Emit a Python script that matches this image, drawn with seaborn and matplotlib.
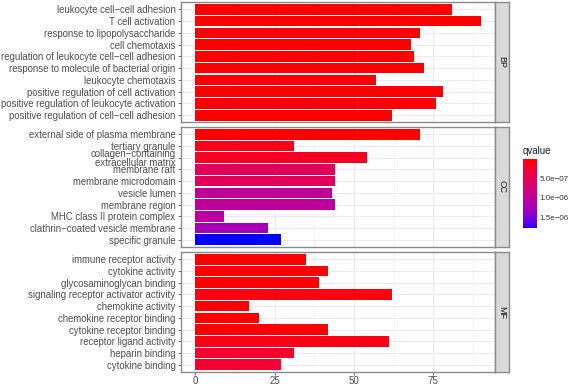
import matplotlib
matplotlib.use("Agg")
import matplotlib.pyplot as plt
import seaborn as sns
import numpy as np
from matplotlib.colors import ListedColormap, Normalize
from matplotlib.cm import ScalarMappable

sns.set_theme(style="white")
plt.rcParams["font.family"] = ["Liberation Sans", "DejaVu Sans"]

# GO terms, gene counts and qvalues
bp_terms = ["leukocyte cell\u2212cell adhesion", "T cell activation", "response to lipopolysaccharide",
            "cell chemotaxis", "regulation of leukocyte cell\u2212cell adhesion",
            "response to molecule of bacterial origin", "leukocyte chemotaxis",
            "positive regulation of cell activation", "positive regulation of leukocyte activation",
            "positive regulation of cell\u2212cell adhesion"]
bp_count = [81, 90, 71, 68, 69, 72, 57, 78, 76, 62]
bp_q = [1e-12, 1e-12, 2e-12, 3e-12, 5e-12, 6e-12, 8e-12, 9e-12, 1e-11, 2e-11]

cc_terms = ["external side of plasma membrane", "tertiary granule",
            "collagen\u2212containing\nextracellular matrix", "membrane raft",
            "membrane microdomain", "vesicle lumen", "membrane region",
            "MHC class II protein complex", "clathrin\u2212coated vesicle membrane", "specific granule"]
cc_count = [71, 31, 54, 44, 44, 43, 44, 9, 23, 27]
cc_q = [2e-9, 0.9e-7, 1.4e-7, 5.3e-7, 5.3e-7, 1.02e-6, 1.03e-6, 1.08e-6, 1.25e-6, 1.78e-6]

mf_terms = ["immune receptor activity", "cytokine activity", "glycosaminoglycan binding",
            "signaling receptor activator activity", "chemokine activity",
            "chemokine receptor binding", "cytokine receptor binding", "receptor ligand activity",
            "heparin binding", "cytokine binding"]
mf_count = [35, 42, 39, 62, 17, 20, 42, 61, 31, 27]
mf_q = [1e-9, 2e-9, 5e-9, 5e-8, 6e-9, 8e-9, 1.2e-8, 8e-8, 1.9e-7, 2.1e-7]


# red -> blue gradient interpolated in Lab space (like ggplot's scale_fill_continuous)
WHITE = np.array([0.95047, 1.0, 1.08883])
M = np.array([[0.4124, 0.3576, 0.1805], [0.2126, 0.7152, 0.0722], [0.0193, 0.1192, 0.9505]])


def to_lab(rgb):
    c = np.where(rgb <= 0.04045, rgb / 12.92, ((rgb + 0.055) / 1.055) ** 2.4)
    t = M @ c / WHITE
    f = np.where(t > 0.008856, np.cbrt(t), 7.787 * t + 16 / 116)
    return np.array([116 * f[1] - 16, 500 * (f[0] - f[1]), 200 * (f[1] - f[2])])


def from_lab(lab):
    fy = (lab[0] + 16) / 116
    f = np.array([fy + lab[1] / 500, fy, fy - lab[2] / 200])
    t = np.where(f > 0.2069, f ** 3, (f - 16 / 116) / 7.787) * WHITE
    c = np.clip(np.linalg.inv(M) @ t, 0, 1)
    return np.clip(np.where(c <= 0.0031308, 12.92 * c, 1.055 * c ** (1 / 2.4) - 0.055), 0, 1)


lo, hi = to_lab(np.array([1.0, 0, 0])), to_lab(np.array([0, 0, 1.0]))
cmap = ListedColormap([from_lab(lo + (hi - lo) * s) for s in np.linspace(0, 1, 256)])
all_q = bp_q + cc_q + mf_q
norm = Normalize(vmin=min(all_q), vmax=max(all_q))

W, H = 569, 385
fig = plt.figure(figsize=(W / 100, H / 100), dpi=100)

panels = [("BP", bp_terms, bp_count, bp_q, 2.3, 122.3),
          ("CC", cc_terms, cc_count, cc_q, 127.3, 246.7),
          ("MF", mf_terms, mf_count, mf_q, 252.3, 371.7)]
x0, x1 = 181, 495
for i, (name, terms, counts, qs, top, bot) in enumerate(panels):
    ax = fig.add_axes([x0 / W, 1 - bot / H, (x1 - x0) / W, (bot - top) / H])
    cols = [cmap(norm(q)) for q in qs]
    sns.barplot(x=counts, y=terms, hue=terms, palette=cols, order=terms, hue_order=terms,
                legend=False, width=0.9, saturation=1, ax=ax, linewidth=0)
    ax.set_xlim(-4.5, 94.5)
    ax.set_ylim(9.6, -0.6)
    ax.set_xticks([0, 25, 50, 75])
    ax.set_xticks([12.5, 37.5, 62.5, 87.5], minor=True)
    ax.grid(True, which="major", color="#EBEBEB", linewidth=0.8)
    ax.grid(True, which="minor", axis="x", color="#F4F4F4", linewidth=0.5)
    ax.set_axisbelow(True)
    for s in ax.spines.values():
        s.set_color("#8a8a8a")
        s.set_linewidth(1.0)
    ax.set_xlabel("")
    ax.set_ylabel("")
    ax.tick_params(axis="y", left=True, length=2.5, width=0.6, color="#555555",
                   labelsize=6.9, labelcolor="#4D4D4D", pad=1.5)
    ax.tick_params(axis="x", which="major", bottom=(i == 2), length=2, width=0.6,
                   color="#555555", labelsize=7.0, labelcolor="#4D4D4D", pad=0.8)
    ax.tick_params(axis="x", which="minor", bottom=False)
    if i < 2:
        ax.set_xticklabels([])
    for lab in ax.get_yticklabels():
        lab.set_linespacing(0.9)

    # facet strip on the right
    sax = fig.add_axes([x1 / W, 1 - bot / H, 14 / W, (bot - top) / H])
    sax.set_facecolor("#D9D9D9")
    sax.set_xticks([])
    sax.set_yticks([])
    for s in sax.spines.values():
        s.set_color("#8a8a8a")
        s.set_linewidth(1.0)
    sax.text(0.5, 0.5, name, rotation=-90, ha="center", va="center", fontsize=6.5,
             color="#1A1A1A", transform=sax.transAxes)

# colorbar legend, red (small qvalue) on top
cax = fig.add_axes([523 / W, 1 - 228 / H, 14 / W, 69 / H])
cb = fig.colorbar(ScalarMappable(norm=norm, cmap=cmap), cax=cax)
cb.outline.set_visible(False)
cax.invert_yaxis()
cb.set_ticks([5e-7, 1e-6, 1.5e-6])
cb.set_ticklabels(["5.0e\u221207", "1.0e\u221206", "1.5e\u221206"])
cax.tick_params(length=2.5, width=0.6, color="white", labelsize=5.8, labelcolor="#333333",
                pad=2, direction="in", right=True, left=True)
cax.text(0, 1.05, "qvalue", transform=cax.transAxes, fontsize=7, color="#1A1A1A",
         ha="left", va="bottom")

fig.savefig("out.png", dpi=100, facecolor="white")
